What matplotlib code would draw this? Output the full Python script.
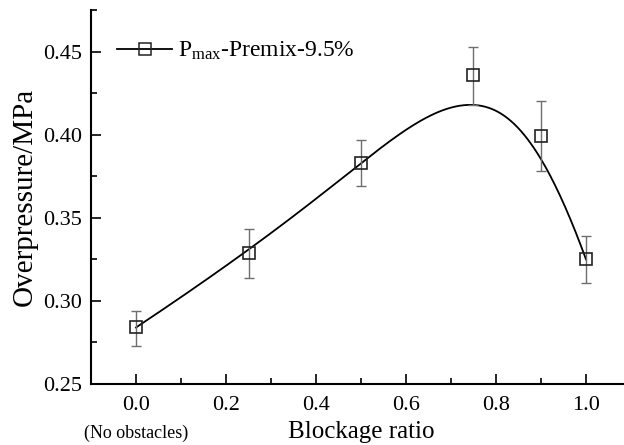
import numpy as np
import matplotlib.pyplot as plt
from matplotlib.ticker import MultipleLocator

plt.rcParams['font.family'] = 'Liberation Serif'
plt.rcParams['mathtext.fontset'] = 'custom'
plt.rcParams['mathtext.rm'] = 'Liberation Serif'
plt.rcParams['mathtext.it'] = 'Liberation Serif:italic'

blockage = [0.0, 0.25, 0.5, 0.75, 0.9, 1.0]
p_max = [0.284, 0.329, 0.383, 0.436, 0.399, 0.325]
err_low = [0.273, 0.314, 0.369, 0.418, 0.378, 0.311]
err_high = [0.294, 0.343, 0.397, 0.453, 0.420, 0.339]


def bspline(xs, ys, n=300, k=3):
    # clamped uniform B-spline using the data points as control points
    ctrl = np.column_stack([xs, ys])
    m = len(ctrl)
    knots = np.concatenate([np.zeros(k), np.linspace(0, 1, m - k + 1), np.ones(k)])
    t = np.linspace(0, 1 - 1e-9, n)
    B = np.array([[(knots[i] <= tt < knots[i + 1]) * 1.0 for i in range(len(knots) - 1)] for tt in t])
    for d in range(1, k + 1):
        nb = np.zeros((n, len(knots) - 1 - d))
        for i in range(len(knots) - 1 - d):
            a = knots[i + d] - knots[i]
            b = knots[i + d + 1] - knots[i + 1]
            left = (t - knots[i]) / a * B[:, i] if a > 0 else 0
            right = (knots[i + d + 1] - t) / b * B[:, i + 1] if b > 0 else 0
            nb[:, i] = left + right
        B = nb
    pts = B @ ctrl
    return pts[:, 0], pts[:, 1]


fig = plt.figure(figsize=(6.24, 4.45), dpi=100)
ax = fig.add_axes([91 / 624, 61 / 445, 540 / 624, 374 / 445])

bx, by = bspline(blockage, p_max)
ax.plot(bx, by, color='black', lw=1.3, zorder=2)

yerr = [np.array(p_max) - np.array(err_low), np.array(err_high) - np.array(p_max)]
ax.errorbar(blockage, p_max, yerr=yerr, fmt='none', ecolor='#6e6e6e', elinewidth=1,
            capsize=3.5, capthick=1, zorder=3)
ax.plot(blockage, p_max, ls='none', marker='s', ms=9, mfc='none', mec='#222222', mew=1.2, zorder=4)

ax.plot([], [], color='black', lw=1.3, marker='s', ms=8.5, mfc='none', mec='#222222', mew=1.1,
        label=r'P$_{\mathrm{max}}$-Premix-9.5%')
ax.legend(loc='upper left', frameon=False, fontsize=17, handlelength=2.35, handletextpad=0.25,
          borderaxespad=0.0, borderpad=0.0, bbox_to_anchor=(0.048, 0.92))

ax.set_xlim(-0.1, 1.1)
ax.set_ylim(0.25, 0.475)
ax.xaxis.set_minor_locator(MultipleLocator(0.1))
ax.yaxis.set_minor_locator(MultipleLocator(0.025))
ax.set_xticks([0.0, 0.2, 0.4, 0.6, 0.8, 1.0])
ax.set_yticks([0.25, 0.30, 0.35, 0.40, 0.45])
ax.set_xticklabels(['0.0', '0.2', '0.4', '0.6', '0.8', '1.0'])
ax.set_yticklabels(['0.25', '0.30', '0.35', '0.40', '0.45'])
ax.tick_params(which='both', direction='in', labelsize=16, width=1.2, top=False, right=False)
ax.tick_params(which='major', length=7)
ax.tick_params(axis='x', which='major', pad=9)
ax.tick_params(axis='y', which='major', pad=6.5)
ax.tick_params(which='minor', length=4)
for side in ('top', 'right'):
    ax.spines[side].set_visible(False)
for side in ('left', 'bottom'):
    ax.spines[side].set_linewidth(1.5)

ax.set_ylabel('Overpressure/MPa', fontsize=21, labelpad=4)
ax.set_xlabel('Blockage ratio', fontsize=18, labelpad=4)
ax.text(0.0, -0.131, '(No obstacles)', transform=ax.get_xaxis_transform(), ha='center',
        va='center', fontsize=13)

fig.savefig('out.png', dpi=100)
